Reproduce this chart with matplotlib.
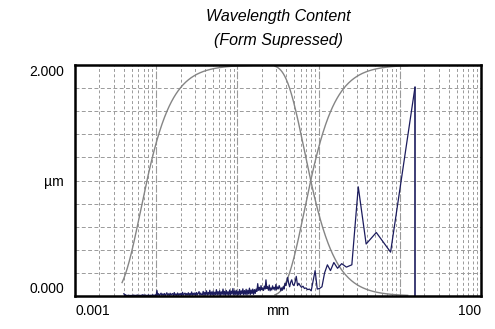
import numpy as np
import matplotlib
matplotlib.use("Agg")
from matplotlib import pyplot as plt

plt.rcParams['font.family'] = ['Liberation Sans', 'DejaVu Sans']

# evaluation length and filter cut-offs, mm
eval_length = 15.4
lambda_s = 0.0077
lambda_c = 0.8

# amplitude of harmonics k = 1..45 (wavelength = eval_length / k), um
low_harmonic_amp = [
    1.81, 0.38, 0.55, 0.45, 0.945, 0.27, 0.25, 0.28, 0.24, 0.29,
    0.22, 0.27, 0.20, 0.08, 0.065, 0.06, 0.22, 0.13, 0.045, 0.06,
    0.055, 0.07, 0.065, 0.085, 0.075, 0.09, 0.11, 0.09, 0.17, 0.12,
    0.09, 0.10, 0.14, 0.12, 0.08, 0.11, 0.16, 0.12, 0.09, 0.11,
    0.06, 0.08, 0.05, 0.07, 0.045,
]

# short wavelength noise floor, from shortest to longest wavelength
noise_amp = [
    0.020, 0.004, 0.012, 0.002, 0.006, 0.003, 0.008, 0.002, 0.005, 0.003,
    0.007, 0.002, 0.009, 0.003, 0.006, 0.002, 0.010, 0.004, 0.003, 0.007,
    0.002, 0.008, 0.004, 0.012, 0.003, 0.006, 0.009, 0.002, 0.007, 0.004,
    0.010, 0.003, 0.005, 0.008, 0.002, 0.011, 0.004, 0.007, 0.009, 0.003,
    0.048, 0.006, 0.020, 0.004, 0.015, 0.025, 0.005, 0.018, 0.007, 0.022,
    0.004, 0.016, 0.028, 0.006, 0.019, 0.005, 0.024, 0.008, 0.017, 0.021,
    0.004, 0.030, 0.007, 0.018, 0.005, 0.026, 0.006, 0.020, 0.008, 0.023,
    0.005, 0.032, 0.007, 0.019, 0.025, 0.006, 0.021, 0.009, 0.028, 0.006,
    0.022, 0.008, 0.035, 0.007, 0.024, 0.010, 0.027, 0.006, 0.030, 0.009,
    0.023, 0.038, 0.008, 0.026, 0.011,
    0.010, 0.040, 0.006, 0.032, 0.012, 0.045, 0.008, 0.030, 0.014, 0.050,
    0.007, 0.035, 0.011, 0.042, 0.005, 0.033, 0.013, 0.055, 0.009, 0.038,
    0.012, 0.046, 0.006, 0.036, 0.015, 0.060, 0.010, 0.040, 0.008, 0.048,
    0.013, 0.037, 0.007, 0.052, 0.011, 0.042, 0.016, 0.065, 0.009, 0.044,
    0.014, 0.050, 0.008, 0.039, 0.012, 0.056, 0.010, 0.045, 0.017, 0.062,
    0.011, 0.047, 0.015, 0.058, 0.009, 0.050, 0.018, 0.068, 0.013, 0.052,
    0.020, 0.060, 0.014, 0.055, 0.022,
    0.060, 0.040, 0.107, 0.050, 0.075, 0.045, 0.090, 0.055, 0.070, 0.048,
    0.085, 0.060, 0.140, 0.065, 0.080, 0.050, 0.095, 0.045, 0.070, 0.052,
    0.088, 0.060, 0.075, 0.050, 0.100, 0.058, 0.078, 0.062, 0.090, 0.070,
]
noise_wl_range = (0.0040, eval_length / 46)

# wavelength spans of the filter transmission curves, mm
s_curve_range = (0.0038, 0.15)
c_curve_range = (0.29, 12.5)

x_ticks = [0.001, 10 ** -0.5, 100]
x_labels = ['0.001', 'mm', '100']
y_ticks = [0.0, 1.0, 2.0]
y_labels = ['0.000', 'µm', '2.000']

title_lines = ['Wavelength Content', '(Form Supressed)']

ALPHA = np.sqrt(np.log(2) / np.pi)


def gauss_pass(wl, cutoff):
    # long-wavelength transmission of a gaussian profile filter
    return np.exp(-np.pi * (ALPHA * cutoff / wl) ** 2)


fig = plt.figure(figsize=(4.95, 3.29), dpi=100)
ax = fig.add_axes([75 / 495, 33 / 329, 406 / 495, 231 / 329])
ax.set_xscale('log')
ax.set_xlim(0.001, 100)
ax.set_ylim(0.0, 2.0)

# grid
grid_col = '#9a9a9a'
for dec in range(-3, 2):
    for m in range(1, 10):
        x = m * 10.0 ** dec
        if m == 1:
            ax.axvline(x, color=grid_col, lw=0.8, dashes=(7, 1.5), zorder=1)
        else:
            ax.axvline(x, color=grid_col, lw=0.7, dashes=(3, 2.5), zorder=1)
for y in np.arange(0.2, 2.0, 0.2):
    ax.axhline(y, color=grid_col, lw=0.7, dashes=(4, 2.5), zorder=1)

# filter transmission curves
gray = '#858585'
wl = np.geomspace(*s_curve_range, 300)
ax.plot(wl, 2 * gauss_pass(wl, lambda_s), color=gray, lw=1.0, zorder=2)
wl = np.geomspace(*c_curve_range, 300)
ax.plot(wl, 2 * (1 - gauss_pass(wl, lambda_c)), color=gray, lw=1.0, zorder=2)
ax.plot(wl, 2 * gauss_pass(wl, lambda_c), color=gray, lw=1.0, zorder=2)

# amplitude spectrum
navy = '#1c1c5e'
noise_wl = np.geomspace(*noise_wl_range, len(noise_amp))
low_wl = eval_length / np.arange(1, len(low_harmonic_amp) + 1)
spec_wl = np.concatenate([noise_wl, low_wl[::-1]])
spec_amp = np.concatenate([noise_amp, low_harmonic_amp[::-1]])
ax.plot(spec_wl, spec_amp, color=navy, lw=0.9, zorder=3)
ax.vlines(low_wl[0], 0, low_harmonic_amp[0], color=navy, lw=1.2, zorder=3)

for s in ax.spines.values():
    s.set_linewidth(1.8)
    s.set_color('black')
    s.set_zorder(4)

ax.set_xticks(x_ticks, x_labels)
ax.set_yticks(y_ticks, y_labels)
ax.minorticks_off()
ax.tick_params(length=0, labelsize=10, colors='black')
ax.tick_params(axis='y', pad=8)
ax.tick_params(axis='x', pad=6)
xl = ax.get_xticklabels()
xl[0].set_ha('left')
xl[-1].set_ha('right')
yl = ax.get_yticklabels()
yl[0].set_va('bottom')
yl[-1].set_va('top')

cx = (75 + 406 / 2) / 495
fig.text(cx, 1 - 17 / 329, title_lines[0], ha='center', va='center',
         fontsize=11.5, style='italic')
fig.text(cx, 1 - 41 / 329, title_lines[1], ha='center', va='center',
         fontsize=11.5, style='italic')

fig.savefig('out.png', dpi=100)
